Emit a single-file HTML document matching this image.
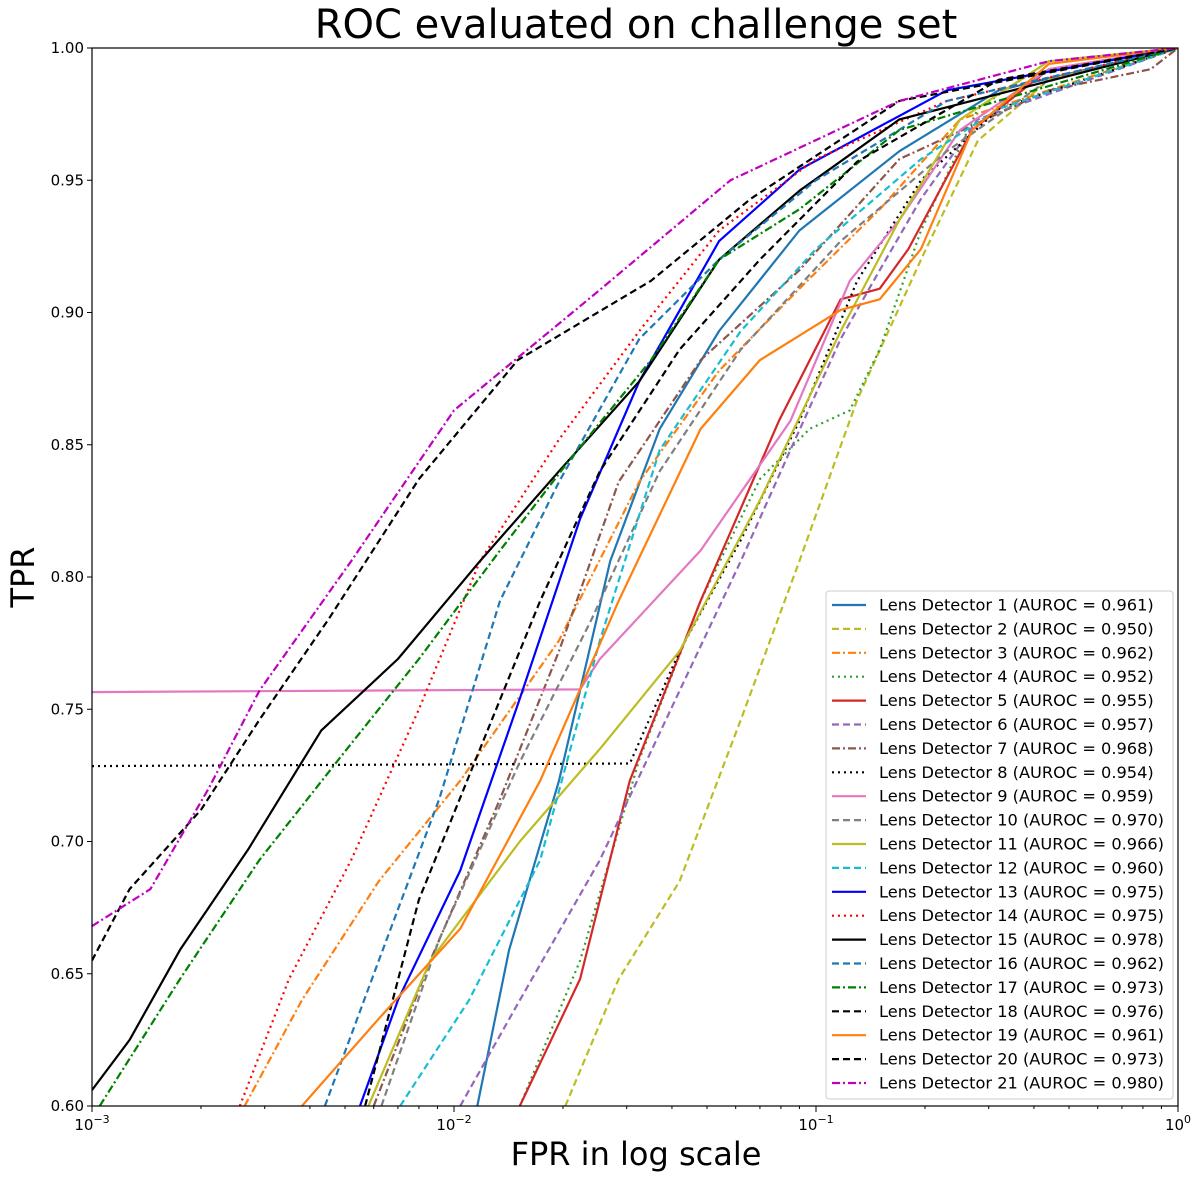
<!DOCTYPE html>
<html><head><meta charset="utf-8"><style>
body{margin:0;background:#fff}
svg text{font-family:"DejaVu Sans","Liberation Sans",sans-serif}
</style></head><body>
<svg id="chart" width="1200" height="1174" xmlns="http://www.w3.org/2000/svg">
<defs><clipPath id="clip"><rect x="92" y="48" width="1086" height="1058"/></clipPath></defs>
<text x="636" y="38" font-size="40" text-anchor="middle">ROC evaluated on challenge set</text>
<text x="34" y="577" font-size="32" text-anchor="middle" transform="rotate(-90 34 577)">TPR</text>
<text x="636" y="1165" font-size="32" text-anchor="middle">FPR in log scale</text>
<g id="axes"></g>
<g id="curves" clip-path="url(#clip)"></g>
<rect x="92" y="48" width="1086" height="1058" fill="none" stroke="#000" stroke-width="1.2"/>
<g id="legend"></g>
</svg>
<script>
const yTicks=[0.60,0.65,0.70,0.75,0.80,0.85,0.90,0.95,1.00];
const xTickExps=[-3,-2,-1,0];
const names=["Lens Detector 1","Lens Detector 2","Lens Detector 3","Lens Detector 4","Lens Detector 5","Lens Detector 6","Lens Detector 7","Lens Detector 8","Lens Detector 9","Lens Detector 10","Lens Detector 11","Lens Detector 12","Lens Detector 13","Lens Detector 14","Lens Detector 15","Lens Detector 16","Lens Detector 17","Lens Detector 18","Lens Detector 19","Lens Detector 20","Lens Detector 21"];
const aurocs=["0.961","0.950","0.962","0.952","0.955","0.957","0.968","0.954","0.959","0.970","0.966","0.960","0.975","0.975","0.978","0.962","0.973","0.976","0.961","0.973","0.980"];
const c1=[[0.0116,0.60],[0.0142,0.659],[0.0195,0.723],[0.027,0.806],[0.037,0.856],[0.054,0.893],[0.09,0.931],[0.17,0.961],[0.32,0.984],[1,1]];
const c2=[[0.0203,0.60],[0.0285,0.648],[0.042,0.685],[0.062,0.746],[0.09,0.806],[0.13,0.867],[0.195,0.92],[0.28,0.965],[0.44,0.988],[1,1]];
const c3=[[0.00264,0.60],[0.0038,0.64],[0.0062,0.685],[0.0104,0.723],[0.0195,0.776],[0.0325,0.836],[0.054,0.878],[0.09,0.909],[0.15,0.939],[0.25,0.973],[1,1]];
const c4=[[0.0152,0.60],[0.0223,0.655],[0.0325,0.731],[0.048,0.791],[0.07,0.837],[0.096,0.856],[0.124,0.863],[0.15,0.886],[0.195,0.931],[0.28,0.977],[0.44,0.995],[1,1]];
const c5=[[0.0152,0.60],[0.0223,0.648],[0.0306,0.723],[0.048,0.791],[0.079,0.859],[0.117,0.905],[0.15,0.909],[0.18,0.924],[0.27,0.969],[0.44,0.992],[1,1]];
const c6=[[0.0104,0.60],[0.0152,0.64],[0.0253,0.693],[0.042,0.757],[0.062,0.806],[0.085,0.848],[0.117,0.89],[0.15,0.916],[0.195,0.943],[0.28,0.973],[1,1]];
const c7=[[0.006,0.60],[0.0086,0.655],[0.0134,0.716],[0.0195,0.772],[0.0285,0.836],[0.048,0.882],[0.09,0.916],[0.17,0.958],[0.44,0.984],[0.84,0.992],[1,1]];
const c8=[[0.001,0.7285],[0.0306,0.7295],[0.042,0.772],[0.062,0.814],[0.09,0.859],[0.13,0.912],[0.195,0.95],[0.32,0.977],[1,1]];
const c9=[[0.001,0.7565],[0.0223,0.7575],[0.0253,0.769],[0.048,0.81],[0.085,0.859],[0.124,0.912],[0.17,0.935],[0.25,0.969],[0.44,0.992],[1,1]];
const c10=[[0.0063,0.60],[0.0091,0.663],[0.0152,0.73],[0.024,0.784],[0.037,0.84],[0.062,0.886],[0.117,0.927],[0.23,0.961],[0.44,0.988],[1,1]];
const c11=[[0.0058,0.60],[0.0086,0.655],[0.0152,0.70],[0.0253,0.735],[0.042,0.772],[0.07,0.829],[0.117,0.893],[0.17,0.935],[0.25,0.973],[0.44,0.995],[1,1]];
const c12=[[0.0071,0.60],[0.011,0.64],[0.0173,0.693],[0.0253,0.776],[0.037,0.848],[0.062,0.893],[0.1,0.924],[0.195,0.958],[0.32,0.977],[1,1]];
const c13=[[0.0055,0.60],[0.007,0.64],[0.0104,0.689],[0.0152,0.754],[0.0223,0.822],[0.0325,0.874],[0.054,0.927],[0.09,0.954],[0.23,0.984],[1,1]];
const c14=[[0.00256,0.60],[0.0035,0.648],[0.0052,0.693],[0.008,0.75],[0.0118,0.806],[0.0195,0.852],[0.0325,0.893],[0.054,0.931],[0.1,0.958],[0.23,0.98],[1,1]];
const c15=[[0.001,0.606],[0.00127,0.625],[0.00175,0.659],[0.0027,0.697],[0.0043,0.742],[0.007,0.769],[0.0118,0.806],[0.0195,0.84],[0.0325,0.874],[0.054,0.92],[0.09,0.946],[0.17,0.973],[1,1]];
const c16=[[0.0044,0.60],[0.0062,0.655],[0.0091,0.716],[0.0134,0.791],[0.0195,0.836],[0.0325,0.89],[0.054,0.92],[0.1,0.95],[0.23,0.98],[1,1]];
const c17=[[0.00105,0.60],[0.00175,0.648],[0.0029,0.693],[0.0048,0.731],[0.008,0.769],[0.0134,0.81],[0.0208,0.844],[0.035,0.882],[0.054,0.92],[0.09,0.939],[0.17,0.969],[1,1]];
const c18=[[0.00568,0.60],[0.008,0.678],[0.0118,0.735],[0.0173,0.791],[0.0253,0.84],[0.042,0.886],[0.07,0.92],[0.13,0.957],[0.32,0.988],[1,1]];
const c19=[[0.0038,0.60],[0.0062,0.633],[0.0104,0.667],[0.0173,0.723],[0.0285,0.791],[0.048,0.856],[0.07,0.882],[0.117,0.901],[0.15,0.905],[0.195,0.924],[0.27,0.969],[0.44,0.994],[1,1]];
const c20=[[0.001,0.655],[0.00127,0.682],[0.002,0.712],[0.0029,0.746],[0.0045,0.784],[0.008,0.837],[0.015,0.882],[0.035,0.912],[0.066,0.943],[0.17,0.98],[1,1]];
const c21=[[0.001,0.668],[0.00145,0.682],[0.0021,0.72],[0.0029,0.757],[0.0052,0.806],[0.01,0.863],[0.025,0.908],[0.058,0.95],[0.17,0.98],[0.44,0.995],[1,1]];
const series=[c1,c2,c3,c4,c5,c6,c7,c8,c9,c10,c11,c12,c13,c14,c15,c16,c17,c18,c19,c20,c21];
const colors=["#1f77b4","#bcbd22","#ff7f0e","#2ca02c","#d62728","#9467bd","#8c564b","#000","#e377c2","#7f7f7f","#bcbd22","#17becf","#0000ff","#ff0000","#000","#1f77b4","#008000","#000","#ff7f0e","#000","#bf00bf"];
const dashes=["","7,4","8,3,2,3","2,4","","7,4","8,3,2,3","2,4","","7,4","","7,4","","2,4","","7,4","8,3,2,3","7,4","","7,4","8,3,2,3"];
const NS="http://www.w3.org/2000/svg";
const X0=92,X1=1178,Y0=48,Y1=1106;
function sx(v){return X0+(Math.log10(v)+3)/3*(X1-X0);}
function sy(v){return Y1-(v-0.6)/0.4*(Y1-Y0);}
function mk(tag,attrs,parent){const e=document.createElementNS(NS,tag);for(const k in attrs)e.setAttribute(k,attrs[k]);parent.appendChild(e);return e;}
const axes=document.getElementById('axes');
yTicks.forEach(t=>{
  const y=sy(t);
  const l=mk('line',{x1:X0-5,x2:X0,y1:y,y2:y,stroke:'#000'},axes);
  
  
  const tx=mk('text',{x:X0-8,y:y+5,'font-size':15,'text-anchor':'end'},axes);
  
  
  tx.textContent=t.toFixed(2);
});
for(let d=-3;d<0;d++)for(let m=2;m<10;m++){
  const x=sx(m*Math.pow(10,d));
  const l=mk('line',{x1:x,x2:x,y1:Y1,y2:Y1+3,stroke:'#000'},axes);
  
  
}
xTickExps.forEach(e=>{
  const x=sx(Math.pow(10,e));
  const l=mk('line',{x1:x,x2:x,y1:Y1,y2:Y1+6,stroke:'#000'},axes);
  
  
  const tx=mk('text',{x:x,y:1130,'font-size':15,'text-anchor':'middle'},axes);
  
  
  if(e===0){tx.textContent='10';const s=mk('tspan',{dy:-7,'font-size':11},tx);s.textContent='0';}
  else{tx.textContent='10';const s=mk('tspan',{dy:-7,'font-size':11},tx);s.textContent='\u2212'+(-e);}
});
const cg=document.getElementById('curves');
series.forEach((s,i)=>{
  const p=mk('polyline',{points:s.map(q=>sx(q[0]).toFixed(1)+','+sy(q[1]).toFixed(1)).join(' '),fill:'none',stroke:colors[i],'stroke-width':2.2,'stroke-dasharray':dashes[i],'stroke-linejoin':'round'},cg);
  
  
});
const lg=document.getElementById('legend');
const bg=mk('rect',{x:826,y:591,width:347,height:508,rx:3,fill:'#fff',stroke:'#ccc'},lg);


names.forEach((n,i)=>{
  const y=605+i*23.9;
  const g=mk('g',{},lg);
  
  
  mk('line',{x1:832,x2:866,y1:y,y2:y,stroke:colors[i],'stroke-width':2.2,'stroke-dasharray':dashes[i]},g);
  const t=mk('text',{x:879,y:y+5.5,'font-size':16.2},g);
  t.textContent=n+' (AUROC = '+aurocs[i]+')';
});
</script>
</body></html>
